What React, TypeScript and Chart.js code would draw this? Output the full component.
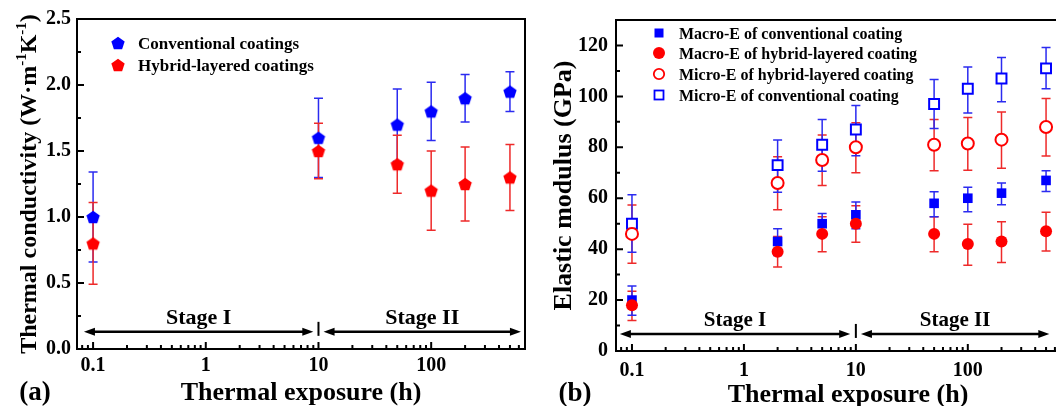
import React, { useEffect, useRef } from 'react';
import { Chart, registerables } from 'chart.js';

Chart.register(...registerables);

// ---------- Data: panel (a) thermal conductivity ----------
const exposureA = [0.1, 10, 50, 100, 200, 500];
const convK = [1.0, 1.6, 1.7, 1.8, 1.9, 1.95];
const convKLow = [0.66, 1.3, 1.42, 1.58, 1.72, 1.8];
const convKHigh = [1.34, 1.9, 1.97, 2.02, 2.08, 2.1];
const hybK = [0.8, 1.5, 1.4, 1.2, 1.25, 1.3];
const hybKLow = [0.49, 1.29, 1.18, 0.9, 0.97, 1.05];
const hybKHigh = [1.11, 1.71, 1.62, 1.5, 1.53, 1.55];

// ---------- Data: panel (b) elastic modulus ----------
const exposureB = [0.1, 2, 5, 10, 50, 100, 200, 500];
const macroConv = [20, 43, 50, 53.5, 58, 60, 62, 67];
const macroConvLow = [14, 37.5, 46, 48, 52.7, 54.7, 57.4, 62.6];
const macroConvHigh = [25.5, 48, 54, 58.5, 62.5, 64.3, 66, 70.8];
const macroHyb = [18, 39, 46, 50, 46, 42, 43, 47];
const macroHybLow = [12, 33, 39, 42.7, 39, 33.7, 34.8, 39.3];
const macroHybHigh = [23.5, 45, 52.7, 57, 52.7, 49.8, 50.8, 54.5];
const microHyb = [46, 66, 75, 80, 81, 81.5, 83, 88];
const microHybLow = [34.5, 55.5, 65, 70, 70.8, 71, 71.8, 76.6];
const microHybHigh = [57.3, 76.3, 84.8, 89.6, 90.9, 91.7, 93.9, 99.2];
const microConv = [50, 73, 81, 87, 97, 103, 107, 111];
const microConvLow = [38.8, 62.3, 70.6, 76.7, 87.4, 93.5, 97.9, 103];
const microConvHigh = [61.4, 82.9, 90.9, 96.4, 106.6, 111.5, 115.3, 119.2];

// ---------- Axis ticks & labels ----------
const xTicks = [0.1, 1, 10, 100];
const yTicksA = [0, 0.5, 1, 1.5, 2, 2.5];
const yTicksB = [0, 20, 40, 60, 80, 100, 120];
const legendA = ['Conventional coatings', 'Hybrid-layered coatings'];
const legendB = [
  'Macro-E of conventional coating',
  'Macro-E of hybrid-layered coating',
  'Micro-E of hybrid-layered coating',
  'Micro-E of conventional coating',
];
const stageLabels = ['Stage I', 'Stage II'];
const stageBoundary = 10;
const stageA = { y: 0.13, iStart: 0.083, iEnd: 9.0, iiStart: 11.1, iiEnd: 626 };
const stageB = { y: 6.7, iStart: 0.078, iEnd: 8.9, iiStart: 11.1, iiEnd: 535 };

const FONT = "'Liberation Serif', 'Times New Roman', serif";
const BLUE = '#0000ff';
const RED = '#ff0000';
const BLUE_BAR = '#2b2bf0';
const RED_BAR = '#ee2a2a';

type ErrSet = { xs: number[]; lo: number[]; hi: number[]; color: string };

function toPts(xs: number[], ys: number[]) {
  return xs.map((x, i) => ({ x, y: ys[i] }));
}

function makePentagon(color: string, r: number) {
  const size = Math.ceil(r * 2) + 2;
  const c = document.createElement('canvas');
  c.width = size;
  c.height = size;
  const ctx = c.getContext('2d')!;
  ctx.fillStyle = color;
  ctx.beginPath();
  for (let i = 0; i < 5; i++) {
    const a = -Math.PI / 2 + (i * 2 * Math.PI) / 5;
    const px = size / 2 + r * Math.cos(a);
    const py = size / 2 + r * Math.sin(a) + r * 0.095;
    if (i === 0) ctx.moveTo(px, py);
    else ctx.lineTo(px, py);
  }
  ctx.closePath();
  ctx.fill();
  return c;
}

function logMinors(min: number, max: number) {
  const out: number[] = [];
  for (let e = -2; e <= 3; e++) {
    for (let k = 2; k <= 9; k++) {
      const v = Number((k * Math.pow(10, e)).toPrecision(3));
      if (v > min && v < max) out.push(v);
    }
  }
  return out;
}

function drawFrame(chart: any, yMajor: number[], yMinor: number[]) {
  const { ctx, chartArea: a, scales } = chart;
  const xs = scales.x;
  const ys = scales.y;
  ctx.save();
  ctx.strokeStyle = '#000';
  ctx.lineWidth = 2;
  ctx.strokeRect(a.left, a.top, a.right - a.left, a.bottom - a.top);
  ctx.beginPath();
  for (const v of xTicks) {
    const p = xs.getPixelForValue(v);
    ctx.moveTo(p, a.bottom);
    ctx.lineTo(p, a.bottom - 7);
  }
  for (const v of logMinors(xs.min, xs.max)) {
    const p = xs.getPixelForValue(v);
    ctx.moveTo(p, a.bottom);
    ctx.lineTo(p, a.bottom - 4);
  }
  for (const v of yMajor) {
    const p = ys.getPixelForValue(v);
    ctx.moveTo(a.left, p);
    ctx.lineTo(a.left + 7, p);
  }
  for (const v of yMinor) {
    const p = ys.getPixelForValue(v);
    ctx.moveTo(a.left, p);
    ctx.lineTo(a.left + 4, p);
  }
  ctx.stroke();
  ctx.restore();
}

function drawErrors(chart: any, sets: ErrSet[]) {
  const { ctx, scales } = chart;
  const xs = scales.x;
  const ys = scales.y;
  ctx.save();
  ctx.lineWidth = 1.5;
  for (const s of sets) {
    ctx.strokeStyle = s.color;
    ctx.beginPath();
    s.xs.forEach((x, i) => {
      const px = xs.getPixelForValue(x);
      const p1 = ys.getPixelForValue(s.lo[i]);
      const p2 = ys.getPixelForValue(s.hi[i]);
      ctx.moveTo(px, p1);
      ctx.lineTo(px, p2);
      ctx.moveTo(px - 4.5, p1);
      ctx.lineTo(px + 4.5, p1);
      ctx.moveTo(px - 4.5, p2);
      ctx.lineTo(px + 4.5, p2);
    });
    ctx.stroke();
  }
  ctx.restore();
}

function drawStages(chart: any, st: { y: number; iStart: number; iEnd: number; iiStart: number; iiEnd: number }, fontSize: number) {
  const { ctx, scales } = chart;
  const xs = scales.x;
  const ys = scales.y;
  const y = ys.getPixelForValue(st.y);
  const head = (tip: number, dir: number) => {
    ctx.beginPath();
    ctx.moveTo(tip, y);
    ctx.lineTo(tip - dir * 11, y - 4);
    ctx.lineTo(tip - dir * 11, y + 4);
    ctx.closePath();
    ctx.fill();
  };
  const seg = (x1v: number, x2v: number, label: string) => {
    const x1 = xs.getPixelForValue(x1v);
    const x2 = xs.getPixelForValue(x2v);
    ctx.beginPath();
    ctx.moveTo(x1 + 6, y);
    ctx.lineTo(x2 - 6, y);
    ctx.stroke();
    head(x1, -1);
    head(x2, 1);
    ctx.fillText(label, (x1 + x2) / 2, y - 8);
  };
  ctx.save();
  ctx.strokeStyle = '#000';
  ctx.fillStyle = '#000';
  ctx.lineWidth = 2.5;
  ctx.font = `bold ${fontSize}px ${FONT}`;
  ctx.textAlign = 'center';
  ctx.textBaseline = 'alphabetic';
  seg(st.iStart, st.iEnd, stageLabels[0]);
  seg(st.iiStart, st.iiEnd, stageLabels[1]);
  const bx = xs.getPixelForValue(stageBoundary);
  ctx.lineWidth = 2;
  ctx.beginPath();
  ctx.moveTo(bx, y - 10);
  ctx.lineTo(bx, y + 4);
  ctx.stroke();
  ctx.restore();
}

function drawText(ctx: CanvasRenderingContext2D, text: string, x: number, y: number, size: number, align: CanvasTextAlign = 'center') {
  ctx.save();
  ctx.fillStyle = '#000';
  ctx.font = `bold ${size}px ${FONT}`;
  ctx.textAlign = align;
  ctx.textBaseline = 'alphabetic';
  ctx.fillText(text, x, y);
  ctx.restore();
}

function drawRotatedParts(ctx: CanvasRenderingContext2D, parts: { t: string; sup: boolean }[], cx: number, cy: number, size: number, supSize: number) {
  ctx.save();
  ctx.fillStyle = '#000';
  const fMain = `bold ${size}px ${FONT}`;
  const fSup = `bold ${supSize}px ${FONT}`;
  let total = 0;
  for (const p of parts) {
    ctx.font = p.sup ? fSup : fMain;
    total += ctx.measureText(p.t).width;
  }
  ctx.translate(cx, cy);
  ctx.rotate(-Math.PI / 2);
  ctx.textBaseline = 'alphabetic';
  ctx.textAlign = 'left';
  let x = -total / 2;
  const base = size * 0.33;
  for (const p of parts) {
    ctx.font = p.sup ? fSup : fMain;
    ctx.fillText(p.t, x, p.sup ? base - size * 0.42 : base);
    x += ctx.measureText(p.t).width;
  }
  ctx.restore();
}

const pentBlue = typeof document !== 'undefined' ? makePentagon(BLUE, 7) : null;
const pentRed = typeof document !== 'undefined' ? makePentagon(RED, 7) : null;

function tickFont() {
  return { family: FONT, size: 20, weight: 'bold' as const };
}

function configA(): any {
  const yMinor = [0.25, 0.75, 1.25, 1.75, 2.25];
  const plugin = {
    id: 'decorA',
    beforeDatasetsDraw(chart: any) {
      drawErrors(chart, [
        { xs: exposureA, lo: convKLow, hi: convKHigh, color: BLUE_BAR },
        { xs: exposureA, lo: hybKLow, hi: hybKHigh, color: RED_BAR },
      ]);
    },
    afterDraw(chart: any) {
      const ctx = chart.ctx as CanvasRenderingContext2D;
      const a = chart.chartArea;
      drawFrame(chart, yTicksA, yMinor);
      drawStages(chart, stageA, 22);
      // legend
      ctx.drawImage(pentBlue!, 118 - pentBlue!.width / 2, 43 - pentBlue!.height / 2);
      ctx.drawImage(pentRed!, 118 - pentRed!.width / 2, 65 - pentRed!.height / 2);
      drawText(ctx, legendA[0], 138, 49, 17, 'left');
      drawText(ctx, legendA[1], 138, 71, 17, 'left');
      // titles
      drawText(ctx, 'Thermal exposure (h)', (a.left + a.right) / 2, 400, 26);
      drawText(ctx, '(a)', 35, 400, 27);
      drawRotatedParts(
        ctx,
        [
          { t: 'Thermal conductivity (W·m', sup: false },
          { t: '-1', sup: true },
          { t: 'K', sup: false },
          { t: '-1', sup: true },
          { t: ')', sup: false },
        ],
        28,
        (a.top + a.bottom) / 2,
        24,
        15
      );
    },
  };
  return {
    type: 'scatter',
    data: {
      datasets: [
        { label: legendA[1], data: toPts(exposureA, hybK), pointStyle: pentRed, order: 0 },
        { label: legendA[0], data: toPts(exposureA, convK), pointStyle: pentBlue, order: 1 },
      ],
    },
    options: {
      animation: false,
      responsive: false,
      events: [],
      layout: { padding: { left: 0, top: 19, right: 5, bottom: 0 } },
      plugins: { legend: { display: false }, tooltip: { enabled: false } },
      scales: {
        x: {
          type: 'logarithmic',
          min: 0.072,
          max: 680,
          bounds: 'data',
          grid: { display: false, drawTicks: false },
          border: { display: false },
          afterBuildTicks: (s: any) => {
            s.ticks = xTicks.map((v) => ({ value: v }));
          },
          afterFit: (s: any) => {
            s.height = 57;
          },
          ticks: { font: tickFont(), color: '#000', padding: 5, autoSkip: false, maxRotation: 0, callback: (v: any) => String(v) },
        },
        y: {
          type: 'linear',
          min: 0,
          max: 2.5,
          grid: { display: false, drawTicks: false },
          border: { display: false },
          afterBuildTicks: (s: any) => {
            s.ticks = yTicksA.map((v) => ({ value: v }));
          },
          afterFit: (s: any) => {
            s.width = 77;
          },
          ticks: { font: tickFont(), color: '#000', padding: 6, callback: (v: any) => Number(v).toFixed(1) },
        },
      },
    },
    plugins: [plugin],
  };
}

function configB(): any {
  const yMinor = [10, 30, 50, 70, 90, 110];
  const plugin = {
    id: 'decorB',
    beforeDatasetsDraw(chart: any) {
      drawErrors(chart, [
        { xs: exposureB, lo: microHybLow, hi: microHybHigh, color: RED_BAR },
        { xs: exposureB, lo: microConvLow, hi: microConvHigh, color: BLUE_BAR },
        { xs: exposureB, lo: macroHybLow, hi: macroHybHigh, color: RED_BAR },
        { xs: exposureB, lo: macroConvLow, hi: macroConvHigh, color: BLUE_BAR },
      ]);
    },
    afterDraw(chart: any) {
      const ctx = chart.ctx as CanvasRenderingContext2D;
      const a = chart.chartArea;
      drawFrame(chart, yTicksB, yMinor);
      drawStages(chart, stageB, 21);
      // legend
      const mx = 129;
      const rows = [33, 53, 74, 95];
      ctx.save();
      ctx.fillStyle = BLUE;
      ctx.fillRect(mx - 4.5, rows[0] - 4.5, 9, 9);
      ctx.fillStyle = RED;
      ctx.beginPath();
      ctx.arc(mx, rows[1], 6, 0, Math.PI * 2);
      ctx.fill();
      ctx.lineWidth = 1.8;
      ctx.strokeStyle = RED;
      ctx.beginPath();
      ctx.arc(mx, rows[2], 5.2, 0, Math.PI * 2);
      ctx.stroke();
      ctx.strokeStyle = BLUE;
      ctx.strokeRect(mx - 4.5, rows[3] - 4.5, 9, 9);
      ctx.restore();
      legendB.forEach((t, i) => drawText(ctx, t, 149, rows[i] + 5.5, 16, 'left'));
      // titles
      drawText(ctx, 'Thermal exposure (h)', 318, 402, 26);
      drawText(ctx, '(b)', 45, 401, 27);
      drawRotatedParts(ctx, [{ t: 'Elastic modulus (GPa)', sup: false }], 32, (a.top + a.bottom) / 2, 26, 16);
    },
  };
  return {
    type: 'scatter',
    data: {
      datasets: [
        { label: legendB[1], data: toPts(exposureB, macroHyb), pointStyle: 'circle', pointRadius: 6, backgroundColor: RED, borderColor: RED, borderWidth: 0, order: 0 },
        { label: legendB[0], data: toPts(exposureB, macroConv), pointStyle: 'rect', pointRadius: 6.8, backgroundColor: BLUE, borderColor: BLUE, borderWidth: 0, order: 1 },
        { label: legendB[2], data: toPts(exposureB, microHyb), pointStyle: 'circle', pointRadius: 6, backgroundColor: '#ffffff', borderColor: RED, borderWidth: 2, order: 2 },
        { label: legendB[3], data: toPts(exposureB, microConv), pointStyle: 'rect', pointRadius: 7, backgroundColor: '#ffffff', borderColor: BLUE, borderWidth: 2, order: 3 },
      ],
    },
    options: {
      animation: false,
      responsive: false,
      events: [],
      layout: { padding: { left: 0, top: 20, right: 5, bottom: 0 } },
      plugins: { legend: { display: false }, tooltip: { enabled: false } },
      scales: {
        x: {
          type: 'logarithmic',
          min: 0.072,
          max: 680,
          bounds: 'data',
          grid: { display: false, drawTicks: false },
          border: { display: false },
          afterBuildTicks: (s: any) => {
            s.ticks = xTicks.map((v) => ({ value: v }));
          },
          afterFit: (s: any) => {
            s.height = 55;
          },
          ticks: { font: tickFont(), color: '#000', padding: 8, autoSkip: false, maxRotation: 0, callback: (v: any) => String(v) },
        },
        y: {
          type: 'linear',
          min: 0,
          max: 130,
          grid: { display: false, drawTicks: false },
          border: { display: false },
          afterBuildTicks: (s: any) => {
            s.ticks = yTicksB.map((v) => ({ value: v }));
          },
          afterFit: (s: any) => {
            s.width = 86;
          },
          ticks: { font: tickFont(), color: '#000', padding: 8, callback: (v: any) => String(v) },
        },
      },
    },
    plugins: [plugin],
  };
}

export default function App() {
  const refA = useRef<HTMLCanvasElement>(null);
  const refB = useRef<HTMLCanvasElement>(null);
  useEffect(() => {
    const a = new Chart(refA.current!, configA());
    const b = new Chart(refB.current!, configB());
    return () => {
      a.destroy();
      b.destroy();
    };
  }, []);
  return (
    <div style={{ position: 'fixed', left: 0, top: 0, width: 1056, height: 406, overflow: 'hidden', background: '#fff' }}>
      <canvas ref={refA} width={530} height={406} style={{ position: 'absolute', left: 0, top: 0 }} />
      <canvas ref={refB} width={540} height={406} style={{ position: 'absolute', left: 530, top: 0 }} />
    </div>
  );
}
